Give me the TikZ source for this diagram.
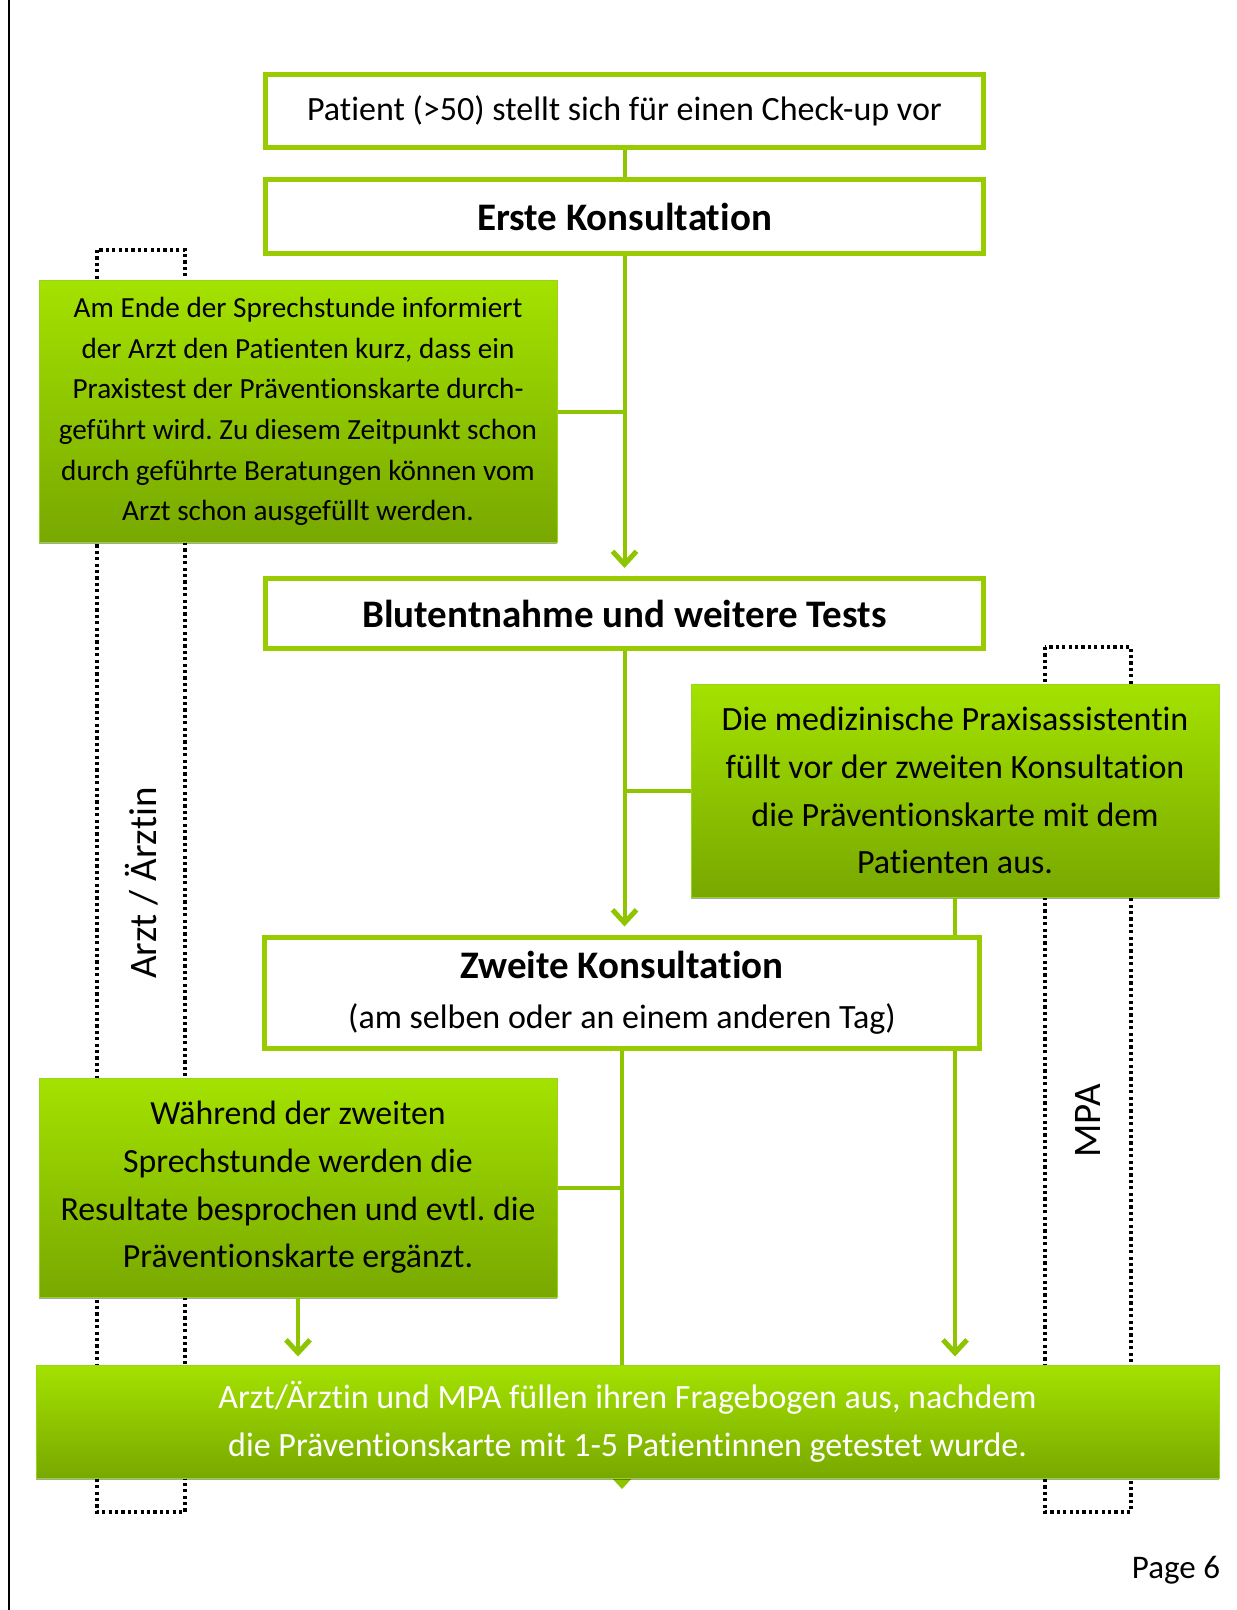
\documentclass[tikz,border=0pt]{standalone}
\usepackage{fontspec}
\setmainfont{Carlito}[Ligatures=NoCommon]
\usetikzlibrary{arrows.meta,shadows}
\frenchspacing

\definecolor{framegreen}{RGB}{153,204,0}
\definecolor{linkgreen}{RGB}{143,196,0}
\definecolor{notetop}{RGB}{164,226,0}
\definecolor{notebot}{RGB}{120,168,0}
\definecolor{noteedge}{RGB}{150,212,30}

\tikzset{
  stepbox/.style={draw=framegreen, line width=2.5pt, fill=white, inner sep=0pt,
    minimum width=359pt, align=center},
  notebox/.style={draw=noteedge, line width=0.5pt, top color=notetop, bottom color=notebot,
    inner sep=0pt, align=center,
    drop shadow={shadow xshift=0pt, shadow yshift=-1pt, opacity=0.35, fill=black}},
  link/.style={draw=linkgreen, line width=2pt},
  flow/.style={link, -{Straight Barb[length=6.5pt,width=12pt,line width=2.5pt]}, shorten >=4pt},
  lane/.style={draw=black, line width=1.6pt, dash pattern=on 1.6pt off 1.6pt},
}

\begin{document}
\begin{tikzpicture}[x=0.5pt, y=-0.5pt]
  \useasboundingbox (0,0) rectangle (1236,1610);
  % page frame
  \draw[line width=0.8pt] (9,0) -- (9,1610);

  % swim lanes
  \draw[lane] (97,250) rectangle (185,1512);
  \draw[lane] (1045,647) rectangle (1131,1512);
  \node[rotate=90, font=\fontsize{19.5}{22}\selectfont] (arztlabel) at (142,883) {Arzt / Ärztin};
  \node[rotate=90, font=\fontsize{19.5}{22}\selectfont] (mpalabel) at (1088,1121) {MPA};

  % steps
  \node[stepbox, minimum height=36.5pt, font=\fontsize{17}{20}\selectfont] (patient) at (624.5,111)
    {Patient (>50) stellt sich für einen Check-up vor};
  \node[stepbox, minimum height=37pt, font=\fontsize{19.5}{22}\selectfont\bfseries] (erste) at (624.5,216.5)
    {Erste Konsultation};
  \node[notebox, minimum width=259pt, minimum height=130.5pt, font=\fontsize{14.6}{20.3}\selectfont] (hinweis) at (298,411.5)
    {Am Ende der Sprechstunde informiert\\der Arzt den Patienten kurz, dass ein\\Praxistest der Präventionskarte durch-\\geführt wird. Zu diesem Zeitpunkt schon\\durch geführte Beratungen können vom\\Arzt schon ausgefüllt werden.};
  \node[stepbox, minimum height=35pt, font=\fontsize{19.5}{22}\selectfont\bfseries] (blut) at (624.5,613.5)
    {Blutentnahme und weitere Tests};
  \node[notebox, minimum width=264pt, minimum height=106.5pt, font=\fontsize{17}{23.9}\selectfont] (mpanote) at (955,790.5)
    {Die medizinische Praxisassistentin\\füllt vor der zweiten Konsultation\\die Präventionskarte mit dem\\Patienten aus.};
  \node[stepbox, minimum width=357.5pt, minimum height=55.5pt, font=\fontsize{17}{25}\selectfont] (zweite) at (622,992.5)
    {{\fontsize{19.5}{22}\selectfont\bfseries Zweite Konsultation}\\(am selben oder an einem anderen Tag)};
  \node[notebox, minimum width=259pt, minimum height=109.5pt, font=\fontsize{16.9}{23.8}\selectfont] (besprechung) at (298,1187.5)
    {Während der zweiten\\Sprechstunde werden die\\Resultate besprochen und evtl. die\\Präventionskarte ergänzt.};

  % line running on behind the last box
  \coordinate (tailend) at (622,1489);
  \draw[flow, shorten >=0pt] (zweite.south) -- (zweite.south |- tailend);

  \node[notebox, minimum width=591.5pt, minimum height=56.5pt, text=white, font=\fontsize{17}{24}\selectfont] (fragebogen) at (627.5,1421.5)
    {Arzt/Ärztin und MPA füllen ihren Fragebogen aus, nachdem\\die Präventionskarte mit 1-5 Patientinnen getestet wurde.};

  \node[anchor=base east, font=\fontsize{16.5}{19}\selectfont] (seite) at (1227,1578) {Page 6};

  % connectors
  \draw[link] (patient.south) -- (erste.north);
  \draw[flow] (erste.south) -- (blut.north);
  \draw[link] (hinweis.east) -- (hinweis.east -| erste.south);
  \draw[flow] (blut.south) -- (blut.south |- zweite.north);
  \draw[link] (mpanote.west) -- (mpanote.west -| blut.south);
  \draw[link] (mpanote.south) -- (mpanote.south |- zweite.north);
  \draw[flow] (mpanote.south |- zweite.south) -- (mpanote.south |- fragebogen.north);
  \draw[link] (besprechung.east) -- (besprechung.east -| zweite.south);
  \draw[flow] (besprechung.south) -- (besprechung.south |- fragebogen.north);
\end{tikzpicture}
\end{document}
